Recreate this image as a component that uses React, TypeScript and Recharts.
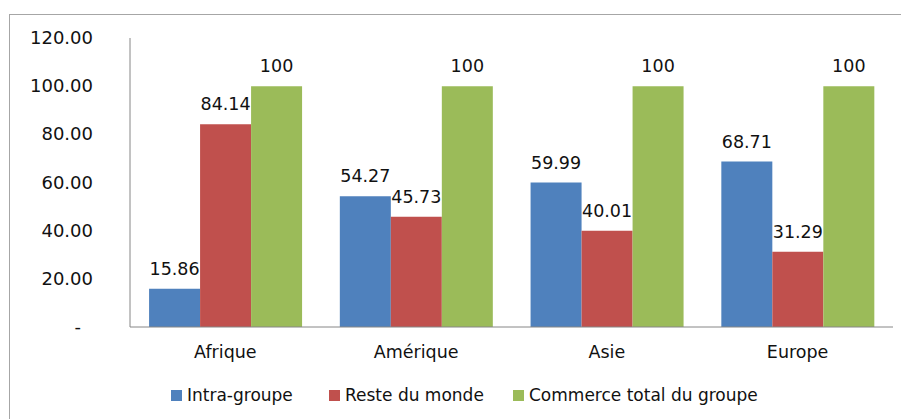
import React from 'react';
import { BarChart, Bar, XAxis, YAxis, LabelList } from 'recharts';

const categories = ['Afrique', 'Amérique', 'Asie', 'Europe'];
const intraGroupe = [15.86, 54.27, 59.99, 68.71];
const resteDuMonde = [84.14, 45.73, 40.01, 31.29];
const commerceTotal = [100, 100, 100, 100];
const yTicks = [0, 20, 40, 60, 80, 100, 120];

const seriesNames = ['Intra-groupe', 'Reste du monde', 'Commerce total du groupe'];
const seriesKeys = ['intra', 'reste', 'total'];
const seriesColors = ['#4F81BD', '#C0504D', '#9BBB59'];
const legendLefts = [171, 329, 513];

const data = categories.map((c, i) => ({
  name: c,
  intra: intraGroupe[i],
  reste: resteDuMonde[i],
  total: commerceTotal[i],
}));

const FONT = '"DejaVu Sans", sans-serif';
const FS = 17.5;

const fmtLabel = (v: any) => (Number.isInteger(v) ? String(v) : Number(v).toFixed(2));

const YTick = (props: any) => {
  const { x, y, payload } = props;
  const v = payload.value;
  return (
    <text
      x={v === 0 ? x - 12 : x}
      y={y}
      dy={6}
      textAnchor="end"
      fontFamily={FONT}
      fontSize={18}
      fill="#111"
    >
      {v === 0 ? '-' : Number(v).toFixed(2)}
    </text>
  );
};

export default function App() {
  return (
    <div
      style={{
        position: 'absolute',
        left: 0,
        top: 0,
        width: 901,
        height: 419,
        overflow: 'hidden',
        background: '#fff',
        fontFamily: FONT,
      }}
    >
      <div
        style={{
          position: 'absolute',
          left: 9,
          top: 14,
          width: 1000,
          height: 500,
          border: '1px solid #a6a6a6',
        }}
      />
      <div style={{ position: 'absolute', left: 0, top: 0 }}>
        <BarChart
          width={901}
          height={419}
          data={data}
          margin={{ top: 38, right: 8, left: 0, bottom: 62 }}
          barCategoryGap="10%"
          barGap={0}
        >
          <XAxis
            dataKey="name"
            height={30}
            tickLine={false}
            tickSize={0}
            tickMargin={19}
            axisLine={{ stroke: '#868686' }}
            tick={{ fontFamily: FONT, fontSize: FS, fill: '#111' }}
          />
          <YAxis
            width={130}
            domain={[0, 120]}
            ticks={yTicks}
            interval={0}
            tickLine={false}
            tickSize={0}
            tickMargin={37}
            axisLine={{ stroke: '#868686' }}
            tick={<YTick />}
          />
          {seriesKeys.map((k, i) => (
            <Bar
              key={k}
              dataKey={k}
              name={seriesNames[i]}
              fill={seriesColors[i]}
              isAnimationActive={false}
            >
              <LabelList
                dataKey={k}
                position="top"
                offset={14}
                formatter={fmtLabel}
                style={{ fontFamily: FONT, fontSize: FS, fill: '#111' }}
              />
            </Bar>
          ))}
        </BarChart>
      </div>
      {seriesNames.map((n, i) => (
        <div
          key={n}
          style={{
            position: 'absolute',
            left: legendLefts[i],
            top: 385,
            height: 20,
            display: 'flex',
            alignItems: 'center',
            whiteSpace: 'nowrap',
            fontSize: 17,
            color: '#111',
          }}
        >
          <span
            style={{
              display: 'inline-block',
              width: 11,
              height: 11,
              background: seriesColors[i],
              marginRight: 5,
            }}
          />
          <span>{n}</span>
        </div>
      ))}
    </div>
  );
}
